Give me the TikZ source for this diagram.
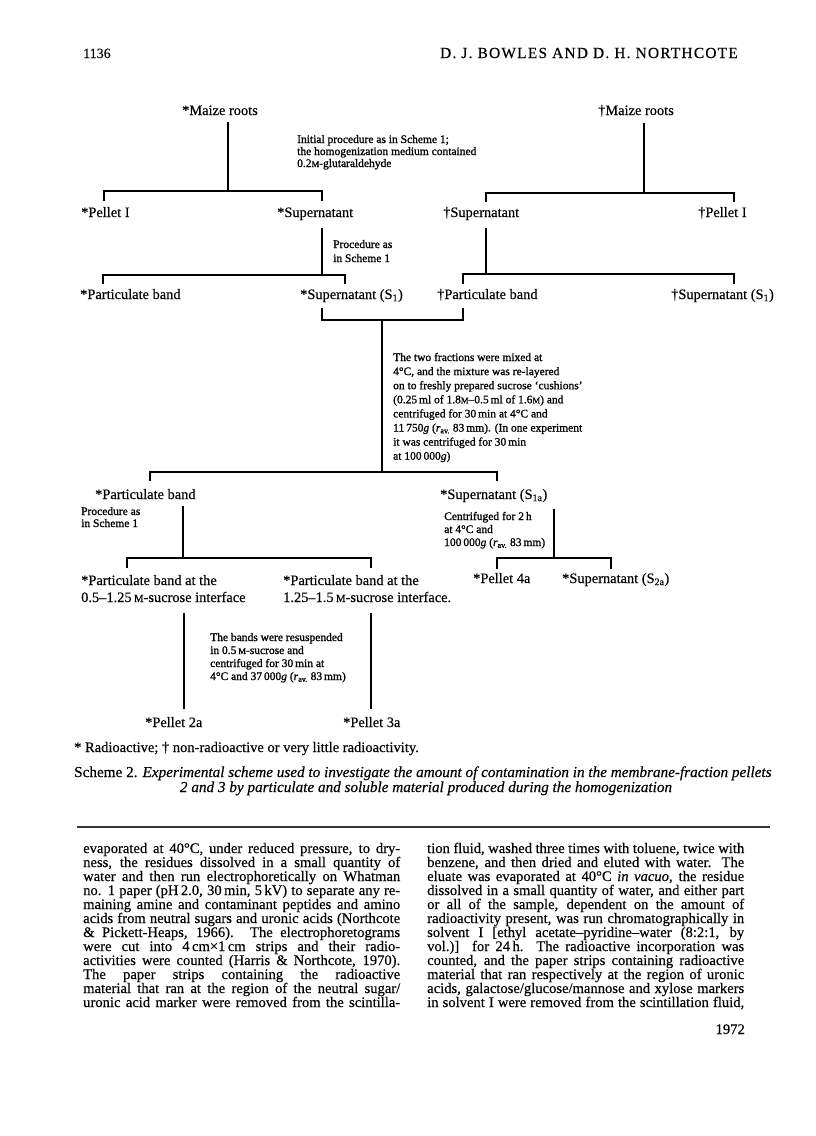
\documentclass[tikz,border=0pt]{standalone}
\usepackage{fontspec}
\setmainfont{Liberation Serif}[FakeBold=0.35]
\usepackage{graphicx}
\newcommand{\Mm}{\scalebox{0.75}{M}}
\newcommand{\rav}{\textit{r}\textsubscript{av.}}
\newcommand{\jl}[1]{\hbox to 317pt{#1}}
\newcommand{\ml}[2]{\vtop{\baselineskip=#1\lineskiplimit=-30pt\lineskip=0pt\halign{##\hfil\cr#2\crcr}}}
\tikzset{
  lab/.style={anchor=base west, inner sep=0pt, font=\fontsize{14.4}{14}\selectfont},
  note/.style={anchor=base west, inner sep=0pt, font=\fontsize{11.5}{12}\selectfont\addfontfeatures{FakeBold=1.1}},
  conn/.style={line width=1.6pt, line cap=rect},
  bodytxt/.style={anchor=base west, inner sep=0pt, font=\fontsize{14.6}{14}\selectfont},
}
\begin{document}
\begin{tikzpicture}[x=1pt,y=-1pt]
\useasboundingbox[fill=white] (0,0) rectangle (816,1136);

% header
\node[anchor=base west, inner sep=0pt, font=\fontsize{14}{14}\selectfont] (pg) at (83,58) {1136};
\node[anchor=base east, inner sep=0pt, font=\fontsize{15.4}{14}\selectfont\addfontfeatures{LetterSpace=8}] (auth) at (738,58) {D. J. BOWLES AND D. H. NORTHCOTE};

% row 1
\node[lab] (mzL) at (182,115) {*Maize roots};
\node[lab] (mzR) at (598,115) {†Maize roots};
\node[note] (n1) at (297,143) {\ml{12pt}{Initial procedure as in Scheme 1;\cr the homogenization medium contained\cr 0.2\Mm-glutaraldehyde}};

% row 2
\node[lab] (p1L) at (81,217) {*Pellet I};
\node[lab] (sL) at (277,217) {*Supernatant};
\node[lab] (sR) at (443,217) {†Supernatant};
\node[lab] (p1R) at (698,217) {†Pellet I};
\node[note] (n2) at (333,248) {\ml{14pt}{Procedure as\cr in Scheme 1}};

% row 3
\node[lab] (pbL) at (80,299) {*Particulate band};
\node[lab] (s1L) at (300,299) {*Supernatant (S\textsubscript{1})};
\node[lab] (pbR) at (437,299) {†Particulate band};
\node[lab] (s1R) at (671,299) {†Supernatant (S\textsubscript{1})};

\node[note] (n3) at (393,361) {\ml{14.1pt}{The two fractions were mixed at\cr
4°C, and the mixture was re-layered\cr
on to freshly prepared sucrose ‘cushions’\cr
(0.25\,ml of 1.8\Mm–0.5\,ml of 1.6\Mm) and\cr
centrifuged for 30\,min at 4°C and\cr
11\,750\textit{g} (\rav\ 83\,mm). (In one experiment\cr
it was centrifuged for 30\,min\cr
at 100\,000\textit{g})}};

% row 4
\node[lab] (pb2) at (95,499) {*Particulate band};
\node[lab] (s1a) at (440,499) {*Supernatant (S\textsubscript{1a})};
\node[note] (n4) at (81,515) {\ml{12pt}{Procedure as\cr in Scheme 1}};
\node[note] (n5) at (444,520) {\ml{13pt}{Centrifuged for 2\,h\cr at 4°C and\cr 100\,000\textit{g} (\rav\ 83\,mm)}};

% row 5
\node[lab] (pi1) at (81,585) {\ml{17pt}{*Particulate band at the\cr 0.5–1.25\,\Mm-sucrose interface}};
\node[lab] (pi2) at (283,585) {\ml{17pt}{*Particulate band at the\cr 1.25–1.5\,\Mm-sucrose interface.}};
\node[lab] (p4a) at (473,583) {*Pellet 4a};
\node[lab] (s2a) at (562,583) {*Supernatant (S\textsubscript{2a})};
\node[note] (n6) at (210,641) {\ml{13pt}{The bands were resuspended\cr in 0.5\,\Mm-sucrose and\cr centrifuged for 30\,min at\cr 4°C and 37\,000\textit{g} (\rav\ 83\,mm)}};

% row 6
\node[lab] (p2a) at (145,727) {*Pellet 2a};
\node[lab] (p3a) at (343,727) {*Pellet 3a};

% connectors: tree 1 left
\coordinate (a0) at (228,123); \coordinate (a1) at (228,191);
\coordinate (a2) at (104,191); \coordinate (a3) at (104,200);
\coordinate (a4) at (322,191); \coordinate (a5) at (322,200);
\draw[conn] (a0) -- (a1);
\draw[conn] (a3) -- (a2) -- (a4) -- (a5);
% tree 1 right
\coordinate (b0) at (644,124); \coordinate (b1) at (644,193);
\coordinate (b2) at (486,193); \coordinate (b3) at (486,201);
\coordinate (b4) at (734,193); \coordinate (b5) at (734,201);
\draw[conn] (b0) -- (b1);
\draw[conn] (b3) -- (b2) -- (b4) -- (b5);
% tree 2 left
\coordinate (c0) at (322,229); \coordinate (c1) at (322,275);
\coordinate (c2) at (103,275); \coordinate (c3) at (103,283);
\coordinate (c4) at (345,275); \coordinate (c5) at (345,283);
\draw[conn] (c0) -- (c1);
\draw[conn] (c3) -- (c2) -- (c4) -- (c5);
% tree 2 right
\coordinate (d0) at (486,229); \coordinate (d1) at (486,274);
\coordinate (d2) at (463,274); \coordinate (d3) at (463,283);
\coordinate (d4) at (734,274); \coordinate (d5) at (734,283);
\draw[conn] (d0) -- (d1);
\draw[conn] (d3) -- (d2) -- (d4) -- (d5);
% join
\coordinate (e0) at (322,309); \coordinate (e1) at (322,320);
\coordinate (e2) at (463,309); \coordinate (e3) at (463,320);
\coordinate (e4) at (382,320); \coordinate (e5) at (382,472);
\draw[conn] (e0) -- (e1) -- (e3) -- (e2);
\draw[conn] (e4) -- (e5);
% split to row 4
\coordinate (f0) at (150,480); \coordinate (f1) at (150,472);
\coordinate (f2) at (497,472); \coordinate (f3) at (497,480);
\draw[conn] (f0) -- (f1) -- (f2) -- (f3);
% particulate band split
\coordinate (g0) at (183,507); \coordinate (g1) at (183,558);
\coordinate (g2) at (127,558); \coordinate (g3) at (127,567);
\coordinate (g4) at (371,558); \coordinate (g5) at (371,567);
\draw[conn] (g0) -- (g1);
\draw[conn] (g3) -- (g2) -- (g4) -- (g5);
% supernatant S1a split
\coordinate (h0) at (554,510); \coordinate (h1) at (554,558);
\coordinate (h2) at (497,558); \coordinate (h3) at (497,568);
\coordinate (h4) at (611,558); \coordinate (h5) at (611,568);
\draw[conn] (h0) -- (h1);
\draw[conn] (h3) -- (h2) -- (h4) -- (h5);
% to pellets 2a, 3a
\coordinate (k0) at (184,614); \coordinate (k1) at (184,708);
\coordinate (k2) at (371,614); \coordinate (k3) at (371,708);
\draw[conn] (k0) -- (k1);
\draw[conn] (k2) -- (k3);

% footnote and caption
\node[anchor=base west, inner sep=0pt, font=\fontsize{14.5}{14}\selectfont] (fn) at (74,752) {* Radioactive; † non-radioactive or very little radioactivity.};
\node[anchor=base west, inner sep=0pt, font=\fontsize{15.2}{14}\selectfont] (cap1) at (74,777) {Scheme 2. \textit{Experimental scheme used to investigate the amount of contamination in the membrane-fraction pellets}};
\node[anchor=base, inner sep=0pt, font=\fontsize{15.2}{14}\selectfont] (cap2) at (426,792) {\textit{2 and 3 by particulate and soluble material produced during the homogenization}};

\coordinate (r0) at (77,827); \coordinate (r1) at (770,827);
\draw[line width=2pt, black!80] (r0) -- (r1);

% body text
\node[bodytxt] (colL) at (83,853) {\vtop{\baselineskip=14pt\lineskiplimit=-30pt\lineskip=0pt
\jl{evaporated at 40°C, under reduced pressure, to dry-}
\jl{ness, the residues dissolved in a small quantity of}
\jl{water and then run electrophoretically on Whatman}
\jl{no. 1 paper (pH\,2.0, 30\,min, 5\,kV) to separate any re-}
\jl{maining amine and contaminant peptides and amino}
\jl{acids from neutral sugars and uronic acids (Northcote}
\jl{\& Pickett-Heaps, 1966). The electrophoretograms}
\jl{were cut into 4\,cm×1\,cm strips and their radio-}
\jl{activities were counted (Harris \& Northcote, 1970).}
\jl{The paper strips containing the radioactive}
\jl{material that ran at the region of the neutral sugar/}
\jl{uronic acid marker were removed from the scintilla-}}};
\node[bodytxt] (colR) at (427,853) {\vtop{\baselineskip=14pt\lineskiplimit=-30pt\lineskip=0pt
\jl{tion fluid, washed three times with toluene, twice with}
\jl{benzene, and then dried and eluted with water. The}
\jl{eluate was evaporated at 40°C \textit{in vacuo}, the residue}
\jl{dissolved in a small quantity of water, and either part}
\jl{or all of the sample, dependent on the amount of}
\jl{radioactivity present, was run chromatographically in}
\jl{solvent I [ethyl acetate–pyridine–water (8:2:1, by}
\jl{vol.)] for 24\,h. The radioactive incorporation was}
\jl{counted, and the paper strips containing radioactive}
\jl{material that ran respectively at the region of uronic}
\jl{acids, galactose/glucose/mannose and xylose markers}
\jl{in solvent I were removed from the scintillation fluid,}}};
\node[anchor=base east, inner sep=0pt, font=\fontsize{14.6}{14}\selectfont] (pg2) at (745,1034) {1972};
\end{tikzpicture}
\end{document}
